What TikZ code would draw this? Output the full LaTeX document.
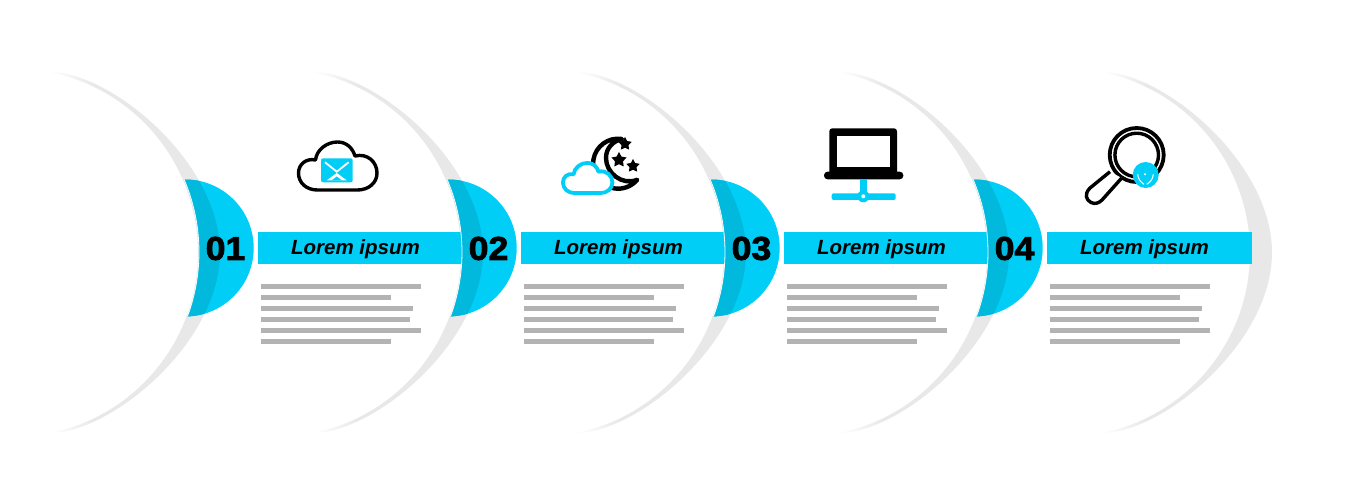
\documentclass[tikz,border=0pt]{standalone}
\usepackage{fontspec}
\setmainfont{Liberation Sans}
\newfontfamily\numfont[FakeBold=2.4,FakeStretch=1.08]{Liberation Sans Bold}
\usetikzlibrary{shapes.geometric}
\definecolor{tabblue}{HTML}{00CEF6}
\definecolor{tabdark}{HTML}{00B9DD}
\definecolor{crescentgray}{HTML}{E8E8E8}
\definecolor{linegray}{HTML}{B3B3B3}
\pgfdeclarehorizontalshading{crescentfade}{100bp}{color(0bp)=(white); color(25bp)=(white); color(38bp)=(crescentgray); color(100bp)=(crescentgray)}
\newcommand{\crescentpath}{(50,176) .. controls (111,176) and (220,86) .. (220,-4.5) .. controls (220,-95) and (111,-185) .. (50,-185) arc[start angle=-78.7,end angle=78.7,radius=184] -- cycle}
\newcommand{\tabpath}{(184,68.5) arc[start angle=91,end angle=-88,radius=68.5] arc[start angle=-20.2,end angle=23.5,radius=185] -- cycle}
\newcommand{\tabedge}{(187.6,-68) arc[start angle=-20.2,end angle=23.5,radius=185]}
\newcommand{\cloudpath}{(-20,-24) .. controls (-31,-24) and (-39,-17) .. (-39,-7) .. controls (-39,2) and (-31,8) .. (-22,6) .. controls (-21,16) and (-11,24) .. (0,24) .. controls (9,24) and (15,18) .. (17.5,10) .. controls (30,13) and (39.5,4) .. (39.5,-7) .. controls (39.5,-17) and (31,-24) .. (20,-24) -- cycle}
\tikzset{
  barlabel/.style={font=\fontsize{20.5}{24}\selectfont\bfseries\itshape,inner sep=0pt},
  numlabel/.style={font=\fontsize{33}{36}\numfont,inner sep=0pt,anchor=west},
  iconline/.style={line width=3.4pt,line join=round},
  staricon/.style={star,star points=5,star point ratio=1.9,fill=black,inner sep=0pt,minimum size=#1},
}
\begin{document}
\begin{tikzpicture}[x=1pt,y=1pt]
  \fill[white] (0,-252) rectangle (1351,248);
  % gray crescents
  \foreach \i in {0,...,4}
    \shade[shading=crescentfade,xshift=263*\i] \crescentpath;
  % bars and text lines
  \foreach \i/\w in {0/1,1/2,2/3,3/4} {
    \begin{scope}[xshift=263*\i]
      \fill[tabblue] (258,16) rectangle (463,-16);
      \node[barlabel] (title\w) at (355.5,-1.5) {Lorem ipsum};
      \foreach \y/\e in {-38.5/421,-49.5/391,-60.5/413,-71.5/410,-82.5/421,-93.5/390.5}
        \fill[linegray] (261,\y+2.5) rectangle (\e,\y-2.5);
    \end{scope}
  }
  % number tabs
  \foreach \i/\n in {0/01,1/02,2/03,3/04} {
    \begin{scope}[xshift=263*\i]
      \fill[tabblue] \tabpath;
      \begin{scope}
        \clip \tabpath;
        \fill[tabdark] \crescentpath;
      \end{scope}
      \draw[white,line width=0.8pt] \tabedge;
      \node[numlabel] (num\n) at (205.5,-0.5) {\n};
    \end{scope}
  }
  % cloud with mail
  \draw[iconline,black,shift={(337.5,82)}] \cloudpath;
  \fill[tabblue,rounded corners=2pt] (321,89.7) rectangle (352.7,65.7);
  \draw[white,line width=1.8pt] (325,85.7) -- (336.8,76.3) -- (348.6,85.7);
  \fill[white] (326.5,67.5) -- (336.8,75) -- (347,67.5) -- cycle;
  \fill[tabblue] (331.5,67.5) -- (336.8,71.5) -- (342,67.5) -- cycle;
  % moon and cloud
  \draw[iconline,black,fill=white,line width=4.4pt] (622,109) arc[start angle=81,end angle=320,radius=25]
    .. controls (622,62) and (606,75) .. (606,90) .. controls (606,100) and (613,107) .. (622,109) -- cycle;
  \node[staricon=14pt] (star1) at (625,104) {};
  \node[staricon=16pt] (star2) at (619,88) {};
  \node[staricon=14pt] (star3) at (633,82) {};
  \draw[iconline,tabblue,fill=white,line width=3.8pt,shift={(587.5,70)},scale=0.63] \cloudpath;
  % laptop
  \fill[black,rounded corners=3pt] (829.3,119.7) rectangle (897,70);
  \fill[white] (837.3,112.3) rectangle (889.7,80.7);
  \fill[black,rounded corners=3.5pt] (824,76.3) rectangle (903.3,68.7);
  \fill[tabblue] (860,69) rectangle (866.7,50);
  \fill[tabblue,rounded corners=2pt] (831.7,54.7) rectangle (895.7,48);
  \fill[tabblue] (863.3,51.7) circle (6);
  \fill[white] (863.3,51.7) circle (2);
  % magnifier with badge
  \draw[iconline,black,line width=3.8pt] (1136.7,93) circle (27);
  \draw[iconline,black,line width=3.4pt] (1136.7,93) circle (21.8);
  \draw[iconline,black,fill=white] (1110,76.3) -- (1090,60) .. controls (1084,54) and (1086,48) .. (1091,45.5) .. controls (1095,43.5) and (1099,45) .. (1102,48) -- (1121.7,70);
  \fill[tabblue] (1145.7,73) circle (13);
  \fill[white] (1145,73.7) circle (1.1);
  \draw[white,line width=1pt] (1137.7,73.7) .. controls (1138,69) and (1141,65.5) .. (1144,63.7);
  \draw[white,line width=1pt] (1153.3,73.7) .. controls (1153,69) and (1150,65.5) .. (1146.7,63.7);
\end{tikzpicture}
\end{document}
